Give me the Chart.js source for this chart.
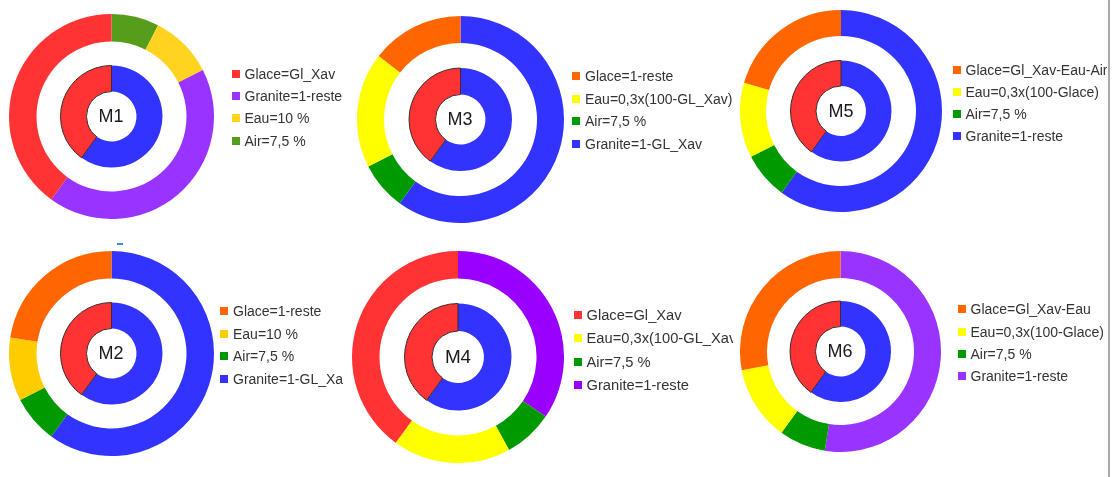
<!DOCTYPE html>
<html lang="fr">
<head>
<meta charset="utf-8">
<title>M1 - M6</title>
<script src="https://cdn.jsdelivr.net/npm/chart.js@4/dist/chart.umd.min.js"></script>
<style>
  html, body { margin: 0; padding: 0; background: #fff; }
  body { width: 1115px; height: 477px; position: relative; overflow: hidden; font-family: "Liberation Sans", Arial, sans-serif; }
  .bloc { position: absolute; overflow: hidden; }
  .bloc canvas { position: absolute; }
  .centre { position: absolute; line-height: 20px; color: #1a1a1a; transform: translate(-50%, -50%); }
  .item { position: absolute; height: 16px; line-height: 16px; color: #333; white-space: nowrap; }
  .carre { position: absolute; left: 0; top: 4px; width: 8px; height: 8px; }
  .texte { position: absolute; left: 13px; top: 0; }
  .trait { position: absolute; left: 1108px; top: 0; width: 2px; height: 477px; background: #a9a9a9; }
  .tiret { position: absolute; left: 117px; top: 243px; width: 6px; height: 2px; background: #3a8fe0; }
</style>
</head>
<body>
<div class="trait"></div>
<div class="tiret"></div>
<script>
// Données (en %), dans l'ordre de la légende
const noms = ["M1", "M2", "M3", "M4", "M5", "M6"];

const m1Labels = ["Glace=Gl_Xav", "Granite=1-reste", "Eau=10 %", "Air=7,5 %"];
const m1Values = [40, 42.5, 10, 7.5];
const m1Colors = ["#ff3333", "#9933ff", "#ffd320", "#579d1c"];

const m2Labels = ["Glace=1-reste", "Eau=10 %", "Air=7,5 %", "Granite=1-GL_Xav"];
const m2Values = [22.5, 10, 7.5, 60];
const m2Colors = ["#ff6600", "#ffcc00", "#009900", "#3333ff"];

const m3Labels = ["Glace=1-reste", "Eau=0,3x(100-GL_Xav)", "Air=7,5 %", "Granite=1-GL_Xav"];
const m3Values = [14.5, 18, 7.5, 60];
const m3Colors = ["#ff6600", "#ffff00", "#009900", "#3333ff"];

const m4Labels = ["Glace=Gl_Xav", "Eau=0,3x(100-GL_Xav)", "Air=7,5 %", "Granite=1-reste"];
const m4Values = [40, 18, 7.5, 34.5];
const m4Colors = ["#ff3333", "#ffff00", "#009900", "#9900ff"];

const m5Labels = ["Glace=Gl_Xav-Eau-Air", "Eau=0,3x(100-Glace)", "Air=7,5 %", "Granite=1-reste"];
const m5Values = [20.5, 12, 7.5, 60];
const m5Colors = ["#ff6600", "#ffff00", "#009900", "#3333ff"];

const m6Labels = ["Glace=Gl_Xav-Eau", "Eau=0,3x(100-Glace)", "Air=7,5 %", "Granite=1-reste"];
const m6Values = [28, 12, 7.5, 52.5];
const m6Colors = ["#ff6600", "#ffff00", "#009900", "#9933ff"];

// anneau intérieur : Glace / Granite
const interieurLabels = ["Glace", "Granite"];
const interieurValues = [40, 60];
const interieurColors = ["#ff3333", "#3333ff"];

const series = [
  [m1Labels, m1Values, m1Colors],
  [m2Labels, m2Values, m2Colors],
  [m3Labels, m3Values, m3Colors],
  [m4Labels, m4Values, m4Colors],
  [m5Labels, m5Values, m5Colors],
  [m6Labels, m6Values, m6Colors],
];

// positions sur la page
const positions = [
  { clip: [0, 0, 360, 238], cx: 111, cy: 116, r: 102.5, ep: 27.5, rInt: 51, trou: 25, legX: 231.5, legY: 74, pas: 22.2, police: 14 },
  { clip: [0, 238, 343, 239], cx: 111, cy: 353, r: 102.5, ep: 27.5, rInt: 51, trou: 25, legX: 220, legY: 311, pas: 22.5, police: 14 },
  { clip: [343, 0, 391, 238], cx: 460, cy: 119, r: 103.5, ep: 27, rInt: 51.5, trou: 25, legX: 572, legY: 76, pas: 22.7, police: 14 },
  { clip: [343, 238, 390, 239], cx: 458, cy: 357, r: 106, ep: 27.5, rInt: 53.5, trou: 26, legX: 573.5, legY: 314.7, pas: 23.5, police: 14.7 },
  { clip: [735, 0, 372, 238], cx: 841, cy: 111, r: 101, ep: 26, rInt: 50.5, trou: 25, legX: 952.5, legY: 70, pas: 22, police: 14 },
  { clip: [733, 238, 374, 239], cx: 840, cy: 351, r: 100.5, ep: 27, rInt: 50.5, trou: 25, legX: 957.5, legY: 309.3, pas: 22.2, police: 14 },
];

function creerBloc(i) {
  const p = positions[i];
  const [labels, values, colors] = series[i];
  const [bx, by, bw, bh] = p.clip;

  const bloc = document.createElement("div");
  bloc.className = "bloc";
  bloc.style.left = bx + "px";
  bloc.style.top = by + "px";
  bloc.style.width = bw + "px";
  bloc.style.height = bh + "px";
  document.body.appendChild(bloc);

  const taille = Math.round(p.r * 2);
  const canvas = document.createElement("canvas");
  canvas.width = taille;
  canvas.height = taille;
  canvas.style.left = (p.cx - taille / 2 - bx) + "px";
  canvas.style.top = (p.cy - taille / 2 - by) + "px";
  bloc.appendChild(canvas);

  // Chart.js tourne dans le sens horaire, l'original dans l'autre sens : on inverse
  new Chart(canvas.getContext("2d"), {
    type: "doughnut",
    data: {
      labels: [...labels].reverse(),
      datasets: [
        {
          data: [...values].reverse(),
          backgroundColor: [...colors].reverse(),
          borderWidth: 0,
          hoverBorderWidth: 0,
          hoverOffset: 0,
          weight: p.ep,
        },
        {
          // espace blanc entre les deux anneaux
          data: [1],
          backgroundColor: "rgba(0,0,0,0)",
          borderWidth: 0,
          hoverOffset: 0,
          weight: p.r - p.ep - p.rInt,
        },
        {
          data: [...interieurValues].reverse(),
          backgroundColor: [...interieurColors].reverse(),
          borderColor: ["rgba(0,0,0,0)", "#3d2b2b"],
          borderWidth: [0, 1],
          hoverOffset: 0,
          weight: p.rInt - p.trou,
        },
      ],
    },
    options: {
      responsive: false,
      animation: false,
      events: [],
      cutout: p.trou,
      layout: { padding: 0 },
      plugins: { legend: { display: false }, tooltip: { enabled: false } },
    },
  });

  const centre = document.createElement("div");
  centre.className = "centre";
  centre.textContent = noms[i];
  centre.style.fontSize = (p.police * 18 / 14) + "px";
  centre.style.left = (p.cx - bx) + "px";
  centre.style.top = (p.cy - by) + "px";
  bloc.appendChild(centre);

  // légende
  labels.forEach((label, k) => {
    const item = document.createElement("div");
    item.className = "item";
    item.style.fontSize = p.police + "px";
    item.style.left = (p.legX - bx) + "px";
    item.style.top = (p.legY + k * p.pas - 8 - by) + "px";
    item.innerHTML = '<span class="carre"></span><span class="texte"></span>';
    item.querySelector(".carre").style.background = colors[k];
    item.querySelector(".texte").textContent = label;
    bloc.appendChild(item);
  });
}

document.addEventListener("DOMContentLoaded", () => {
  for (let i = 0; i < noms.length; i++) {
    creerBloc(i);
  }
});
</script>
</body>
</html>
